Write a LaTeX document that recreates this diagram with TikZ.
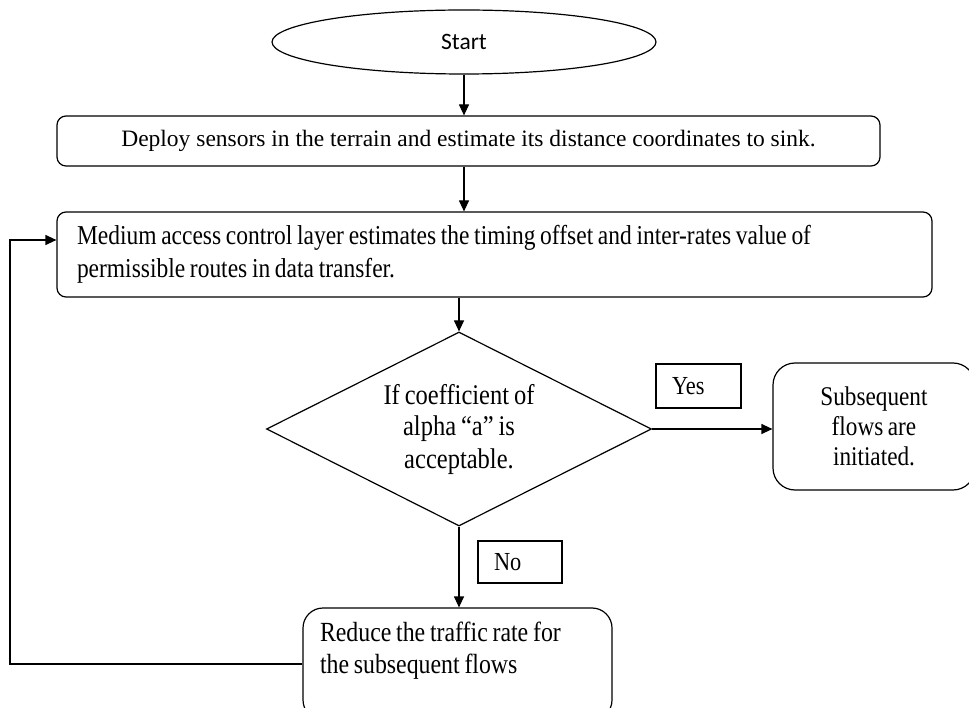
\documentclass[tikz,border=0pt]{standalone}
\usepackage{fontspec}
\setmainfont{Liberation Serif}
\newfontfamily\startfont{Carlito}
\newfontfamily\condfont[FakeStretch=0.86,WordSpace=0.8]{Liberation Serif}
\usetikzlibrary{shapes.geometric,arrows.meta}
\tikzset{
  every node/.style={font=\fontsize{23.5}{32}\selectfont},
  ln/.style={line width=1.2pt, draw=black},
  arr/.style={ln, -{Triangle[length=11pt,width=10pt]}},
  rbox/.style={ln, rectangle, rounded corners=9pt, inner sep=0pt},
  lblbox/.style={ln, rectangle, inner xsep=16pt, inner ysep=0pt, align=flush left}
}
\begin{document}
\begin{tikzpicture}[x=1pt,y=-1pt]
\useasboundingbox (0,0) rectangle (969,708);
\node[ln, ellipse, minimum width=384pt, minimum height=64pt, inner sep=0pt, font=\startfont\fontsize{23.5}{28}\selectfont] (start) at (464,42) {Start};
\node[rbox, minimum width=823pt, minimum height=50pt] (deploy) at (468.5,141) {Deploy sensors in the terrain and estimate its distance coordinates to sink.};
\node[rbox, minimum width=875pt, minimum height=85pt, text width=835pt, align=flush left, font=\condfont\fontsize{27.3}{33}\selectfont] (mac) at (494.5,254.5) {Medium access control layer estimates the timing offset and inter-rates value of\\permissible routes in data transfer.};
\node[ln, diamond, minimum width=385pt, minimum height=194pt, inner sep=0pt] (dec) at (459,429) {};
\node[align=center, font=\condfont\fontsize{28.5}{32}\selectfont] (dectext) at (dec.center) {If coefficient of\\alpha “a” is\\acceptable.};
\node[rbox, rounded corners=22pt, minimum width=202pt, minimum height=127pt, align=center, font=\condfont\fontsize{27}{30}\selectfont] (subs) at (874,426.5) {Subsequent\\flows are\\initiated.};
\node[rbox, rounded corners=20pt, minimum width=309pt, minimum height=112pt, text width=275pt, align=flush left, font=\condfont\fontsize{27.7}{32}\selectfont] (reduce) at (457.5,664) {Reduce the traffic rate for\\the subsequent flows\\\mbox{}};
\node[lblbox, minimum width=85pt, minimum height=44pt, text width=53pt, font=\condfont\fontsize{26}{28}\selectfont] (yes) at (698.5,386) {Yes};
\node[lblbox, minimum width=84pt, minimum height=42pt, text width=52pt, font=\condfont\fontsize{26}{28}\selectfont] (no) at (520,562) {No};
\draw[arr] (start.south) -- (start.south |- deploy.north);
\draw[arr] (deploy.south -| start.south) -- (start.south |- mac.north);
\draw[arr] (mac.south -| dec.north) -- (dec.north);
\draw[arr] (dec.east) -- (subs.west |- dec.east);
\draw[arr] (dec.south) -- (dec.south |- reduce.north);
\coordinate (loopcorner) at (10,664);
\coordinate (looptop) at (10,240);
\draw[arr] (reduce.west) -- (loopcorner) -- (looptop) -- (looptop -| mac.west);
\end{tikzpicture}
\end{document}
